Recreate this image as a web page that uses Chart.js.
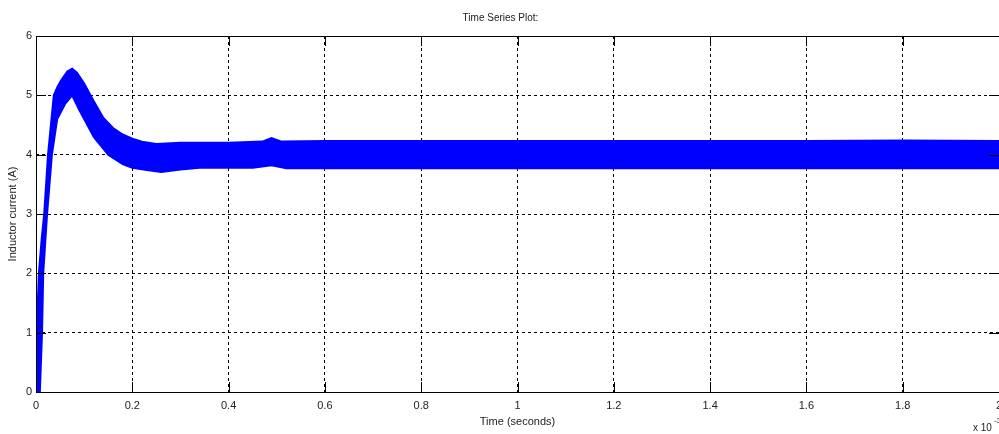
<!DOCTYPE html>
<html>
<head>
<meta charset="utf-8">
<script src="https://cdn.jsdelivr.net/npm/chart.js@4"></script>
<style>
  html, body { margin: 0; padding: 0; background: #fff; }
  #wrap { width: 999px; height: 434px; position: relative; }
</style>
</head>
<body>
<div id="wrap"><canvas id="chart" width="999" height="434"></canvas></div>
<script>
// envolvente superior del rizado (tiempo en ms, corriente en A)
const tUpper = [0, 0.003, 0.006, 0.012, 0.017, 0.025, 0.037, 0.045, 0.052, 0.065, 0.075, 0.085, 0.1, 0.12, 0.14, 0.16, 0.18, 0.2, 0.22, 0.25, 0.3, 0.4, 0.47, 0.489, 0.51, 0.6, 0.8, 1.0, 1.2, 1.4, 1.6, 1.8, 2.0];
const iUpper = [0, 1.3, 2.0, 2.6, 3.0, 4.0, 5.0, 5.15, 5.25, 5.4, 5.45, 5.38, 5.2, 4.9, 4.62, 4.45, 4.34, 4.27, 4.22, 4.18, 4.2, 4.2, 4.22, 4.28, 4.22, 4.23, 4.23, 4.23, 4.23, 4.23, 4.23, 4.24, 4.23];
// envolvente inferior
const tLower = [0, 0.008, 0.0125, 0.015, 0.023, 0.033, 0.044, 0.06, 0.075, 0.09, 0.1, 0.12, 0.15, 0.18, 0.2, 0.23, 0.26, 0.3, 0.34, 0.45, 0.489, 0.52, 0.8, 1.2, 1.6, 2.0];
const iLower = [0, 0, 1.0, 2.0, 3.0, 4.0, 4.6, 4.85, 5.0, 4.75, 4.6, 4.3, 4.0, 3.84, 3.78, 3.74, 3.71, 3.75, 3.78, 3.78, 3.82, 3.77, 3.77, 3.77, 3.77, 3.77];

const xTickValues = [0, 0.2, 0.4, 0.6, 0.8, 1, 1.2, 1.4, 1.6, 1.8, 2];
const xTickLabels = ['0', '0.2', '0.4', '0.6', '0.8', '1', '1.2', '1.4', '1.6', '1.8', '2'];
const yTickValues = [0, 1, 2, 3, 4, 5, 6];
const yTickLabels = ['0', '1', '2', '3', '4', '5', '6'];

const FONT = 'Liberation Sans, Arial, sans-serif';
const BLUE = 'rgb(0,0,255)';

const toPoints = (ts, vs) => ts.map((t, i) => ({ x: t, y: vs[i] }));

// caja y marcas hacia dentro estilo MATLAB
const boxPlugin = {
  id: 'box',
  afterDraw(chart) {
    const { ctx, chartArea: a, scales: { x, y } } = chart;
    ctx.save();
    ctx.strokeStyle = '#000';
    ctx.lineWidth = 1;
    ctx.setLineDash([]);
    ctx.strokeRect(a.left + 0.5, a.top + 0.5, a.right - a.left, a.bottom - a.top);
    const len = 10;
    ctx.beginPath();
    xTickValues.forEach(v => {
      const px = Math.round(x.getPixelForValue(v)) + 0.5;
      ctx.moveTo(px, a.bottom); ctx.lineTo(px, a.bottom - len);
      ctx.moveTo(px, a.top); ctx.lineTo(px, a.top + len);
    });
    yTickValues.forEach(v => {
      const py = Math.round(y.getPixelForValue(v)) + 0.5;
      ctx.moveTo(a.left, py); ctx.lineTo(a.left + len, py);
      ctx.moveTo(a.right, py); ctx.lineTo(a.right - len, py);
    });
    ctx.stroke();
    // multiplicador del eje x
    ctx.fillStyle = '#222';
    ctx.font = '10px ' + FONT;
    ctx.textBaseline = 'middle';
    ctx.fillText('x 10', 973, 428);
    ctx.font = '8px ' + FONT;
    ctx.fillText('-3', 994, 421);
    ctx.restore();
  }
};

const ctx = document.getElementById('chart').getContext('2d');
new Chart(ctx, {
  type: 'line',
  data: {
    datasets: [
      {
        data: toPoints(tUpper, iUpper),
        borderColor: BLUE,
        backgroundColor: BLUE,
        borderWidth: 2,
        pointRadius: 0,
        tension: 0,
        fill: '+1'
      },
      {
        data: toPoints(tLower, iLower),
        borderColor: BLUE,
        backgroundColor: BLUE,
        borderWidth: 2,
        pointRadius: 0,
        tension: 0,
        fill: false
      }
    ]
  },
  options: {
    responsive: false,
    animation: false,
    layout: { padding: { left: 0, right: -2, top: 0, bottom: 0 } },
    plugins: {
      legend: { display: false },
      tooltip: { enabled: false },
      title: {
        display: true,
        text: 'Time Series Plot:',
        color: '#222',
        font: { family: FONT, size: 10, weight: 'normal' },
        padding: { top: 12, bottom: 12 }
      }
    },
    scales: {
      x: {
        type: 'linear',
        min: 0,
        max: 2,
        afterBuildTicks: (s) => { s.ticks = xTickValues.map(v => ({ value: v })); },
        afterFit: (s) => { s.height = 42; s.paddingLeft = 0; s.paddingRight = 0; },
        ticks: {
          color: '#222',
          font: { family: FONT, size: 11 },
          padding: 7,
          maxRotation: 0,
          autoSkip: false,
          callback: (v, i) => xTickLabels[i]
        },
        grid: { color: '#000', lineWidth: 1, drawTicks: false, tickLength: 0 },
        border: { display: false, dash: [3, 3] },
        title: {
          display: true,
          text: 'Time (seconds)',
          color: '#222',
          font: { family: FONT, size: 11 },
          padding: { top: 0, bottom: 5 }
        }
      },
      y: {
        min: 0,
        max: 6,
        afterBuildTicks: (s) => { s.ticks = yTickValues.map(v => ({ value: v })); },
        afterFit: (s) => { s.width = 36; },
        ticks: {
          color: '#222',
          font: { family: FONT, size: 11 },
          padding: 4,
          autoSkip: false,
          callback: (v, i) => yTickLabels[i]
        },
        grid: { color: '#000', lineWidth: 1, drawTicks: false, tickLength: 0 },
        border: { display: false, dash: [3, 3] },
        title: {
          display: true,
          text: 'Inductor current (A)',
          color: '#222',
          font: { family: FONT, size: 11 },
          padding: { top: 6, bottom: 0 }
        }
      }
    }
  },
  plugins: [boxPlugin]
});
</script>
</body>
</html>
